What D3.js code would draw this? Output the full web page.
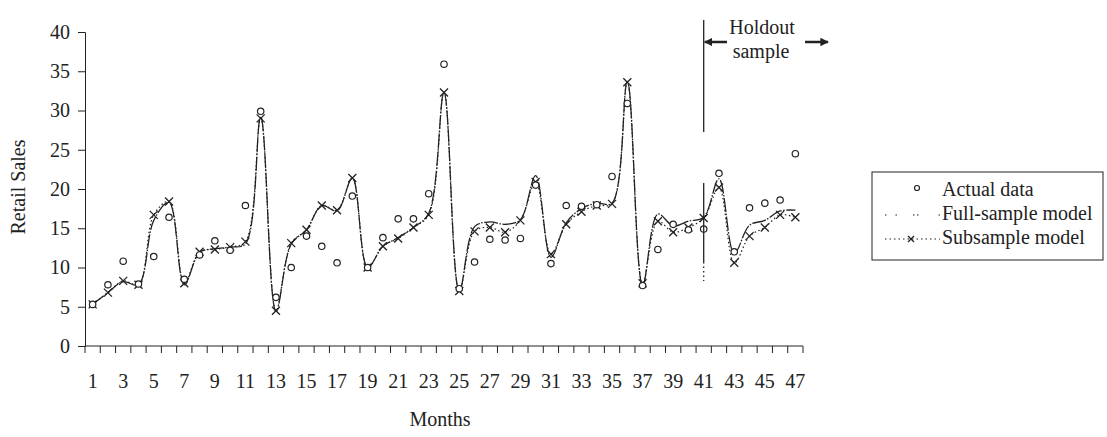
<html>
<head>
    <title>Retail Sales: Actual vs Models</title>
    <script src="https://d3js.org/d3.v7.min.js"></script>
    <style>
        body {
            margin: 0;
            background-color: white;
        }
        svg text {
            font-family: "Liberation Serif", "Times New Roman", serif;
            fill: #222;
        }
    </style>
</head>
<body>
    <svg id="chart" width="1107" height="437"></svg>

    <script>
        // data
        const months = d3.range(1, 48);
        const actual = [5.3, 7.8, 10.8, 7.9, 11.4, 16.4, 8.5, 11.6, 13.4, 12.2,
            17.9, 29.9, 6.2, 10.0, 14.0, 12.7, 10.6, 19.1, 10.0, 13.8,
            16.2, 16.2, 19.4, 35.9, 7.3, 10.7, 13.6, 13.5, 13.7, 20.5,
            10.5, 17.9, 17.8, 18.0, 21.6, 30.9, 7.7, 12.3, 15.5, 14.8,
            14.9, 22.0, 12.0, 17.6, 18.2, 18.6, 24.5];
        const fullModel = [5.3, 6.8, 8.2, 7.8, 16.0, 18.3, 7.8, 11.9, 12.4, 12.6,
            13.0, 29.2, 4.4, 13.0, 14.8, 17.9, 17.2, 21.4, 10.0, 12.7,
            13.8, 15.1, 16.9, 32.3, 7.0, 15.2, 15.8, 15.5, 16.1, 21.7,
            11.3, 15.7, 17.5, 18.2, 18.2, 33.7, 7.7, 16.8, 15.3, 15.9,
            16.4, 21.3, 11.8, 15.4, 16.0, 17.2, 17.3];
        const subModel = [5.3, 6.8, 8.3, 7.8, 16.7, 18.4, 8.0, 12.0, 12.3, 12.6,
            13.3, 29.0, 4.5, 13.1, 14.8, 17.9, 17.3, 21.4, 10.0, 12.7,
            13.7, 15.1, 16.7, 32.3, 7.0, 14.6, 15.1, 14.5, 16.0, 20.9,
            11.7, 15.5, 17.1, 17.9, 18.1, 33.6, 8.0, 15.9, 14.5, 15.1,
            16.3, 20.2, 10.6, 14.0, 15.1, 16.7, 16.4];
        const yTicks = [0, 5, 10, 15, 20, 25, 30, 35, 40];
        const xLabels = months.filter(m => m % 2 === 1);
        const holdoutStart = 41;
        const legendItems = ["Actual data", "Full-sample model", "Subsample model"];

        const svg = d3.select("#chart");
        const plotLeft = 85, plotRight = 803, plotTop = 32, plotBottom = 346;
        const fontSize = "20px";

        const x = d3.scaleBand().domain(months).range([plotLeft, plotRight]).padding(0);
        const cx = m => x(m) + x.bandwidth() / 2;
        const y = d3.scaleLinear().domain([0, 40]).range([plotBottom, plotTop]);

        // Y axis
        const yAxis = svg.append("g")
            .attr("transform", "translate(" + plotLeft + ",0)")
            .call(d3.axisLeft(y).tickValues(yTicks).tickSize(7).tickPadding(8));
        yAxis.selectAll("text").style("font-size", fontSize);

        // X axis, labels on odd months
        const xAxis = svg.append("g")
            .attr("transform", "translate(0," + plotBottom + ")")
            .call(d3.axisBottom(x).tickValues(xLabels).tickSize(0).tickPadding(28).tickSizeOuter(0));
        xAxis.selectAll("text").style("font-size", fontSize);
        xAxis.select(".domain").attr("d", "M" + plotLeft + ",0H" + plotRight);

        // tick marks between months
        svg.append("g").selectAll("line")
            .data(months.concat([48]))
            .enter().append("line")
            .attr("x1", d => d === 48 ? plotRight : x(d))
            .attr("x2", d => d === 48 ? plotRight : x(d))
            .attr("y1", plotBottom)
            .attr("y2", plotBottom + 7)
            .attr("stroke", "#222");

        svg.selectAll(".domain, .tick line").attr("stroke", "#222");

        // axis titles
        svg.append("text")
            .attr("transform", "translate(25,187) rotate(-90)")
            .attr("text-anchor", "middle")
            .style("font-size", fontSize)
            .text("Retail Sales");
        svg.append("text")
            .attr("x", 440).attr("y", 426)
            .attr("text-anchor", "middle")
            .style("font-size", fontSize)
            .text("Months");

        const line = series => d3.line()
            .x((d, i) => cx(months[i]))
            .y(d => y(d))
            .curve(d3.curveCatmullRom.alpha(0.5))(series);

        // subsample model (dotted with crosses)
        svg.append("path")
            .attr("d", line(subModel))
            .attr("fill", "none")
            .attr("stroke", "#222")
            .attr("stroke-width", 1.2)
            .attr("stroke-dasharray", "1.5,2.5");

        // full-sample model
        svg.append("path")
            .attr("d", line(fullModel))
            .attr("fill", "none")
            .attr("stroke", "#222")
            .attr("stroke-width", 1.3)
            .attr("stroke-dasharray", "14,1.5,1.5,1.5");

        const cross = (g, px, py, s) => {
            g.append("path")
                .attr("d", "M" + (px - s) + "," + (py - s) + "L" + (px + s) + "," + (py + s) +
                    "M" + (px - s) + "," + (py + s) + "L" + (px + s) + "," + (py - s))
                .attr("stroke", "#222")
                .attr("stroke-width", 1.3);
        };

        const crosses = svg.append("g");
        subModel.forEach((v, i) => cross(crosses, cx(months[i]), y(v), 4));

        svg.append("g").selectAll("circle")
            .data(actual)
            .enter().append("circle")
            .attr("cx", (d, i) => cx(months[i]))
            .attr("cy", d => y(d))
            .attr("r", 3.2)
            .attr("fill", "white")
            .attr("stroke", "#222")
            .attr("stroke-width", 1.2);

        // holdout marker
        const hx = cx(holdoutStart);
        svg.append("line")
            .attr("x1", hx).attr("x2", hx).attr("y1", 20).attr("y2", 132)
            .attr("stroke", "#222").attr("stroke-width", 1.3);
        svg.append("line")
            .attr("x1", hx).attr("x2", hx).attr("y1", 183).attr("y2", 262)
            .attr("stroke", "#222").attr("stroke-width", 1.3);
        svg.append("line")
            .attr("x1", hx).attr("x2", hx).attr("y1", 262).attr("y2", 281)
            .attr("stroke", "#222").attr("stroke-width", 1.3)
            .attr("stroke-dasharray", "1.5,3");

        svg.append("defs").append("marker")
            .attr("id", "arrow")
            .attr("viewBox", "0 0 10 10")
            .attr("refX", 9).attr("refY", 5)
            .attr("markerWidth", 3.4).attr("markerHeight", 3.4)
            .attr("orient", "auto")
            .append("path").attr("d", "M0,0L10,5L0,10Z").attr("fill", "#222");

        svg.append("line")
            .attr("x1", 727).attr("x2", hx + 1).attr("y1", 42).attr("y2", 42)
            .attr("stroke", "#222").attr("stroke-width", 2.5)
            .attr("marker-end", "url(#arrow)");
        svg.append("line")
            .attr("x1", 805).attr("x2", 828).attr("y1", 42).attr("y2", 42)
            .attr("stroke", "#222").attr("stroke-width", 2.5)
            .attr("marker-end", "url(#arrow)");
        svg.append("text")
            .attr("x", 762).attr("y", 34)
            .attr("text-anchor", "middle")
            .style("font-size", fontSize)
            .text("Holdout");
        svg.append("text")
            .attr("x", 761).attr("y", 58)
            .attr("text-anchor", "middle")
            .style("font-size", fontSize)
            .text("sample");

        // legend
        const legend = svg.append("g");
        legend.append("rect")
            .attr("x", 872).attr("y", 172)
            .attr("width", 231).attr("height", 88)
            .attr("fill", "white")
            .attr("stroke", "#222");
        legendItems.forEach((label, i) => {
            legend.append("text")
                .attr("x", 942).attr("y", 196 + i * 24)
                .style("font-size", fontSize)
                .text(label);
        });
        legend.append("circle")
            .attr("cx", 917).attr("cy", 188).attr("r", 2.5)
            .attr("fill", "white").attr("stroke", "#222").attr("stroke-width", 1.2);
        legend.append("line")
            .attr("x1", 885).attr("x2", 940).attr("y1", 215).attr("y2", 215)
            .attr("stroke", "#222").attr("stroke-width", 1.2)
            .attr("stroke-dasharray", "1.5,9,1.5,16,1.5,2.5,1.5,20");
        legend.append("line")
            .attr("x1", 885).attr("x2", 940).attr("y1", 239).attr("y2", 239)
            .attr("stroke", "#222").attr("stroke-width", 1.2)
            .attr("stroke-dasharray", "1.5,3");
        cross(legend, 911, 239, 3);
    </script>
</body>
</html>
